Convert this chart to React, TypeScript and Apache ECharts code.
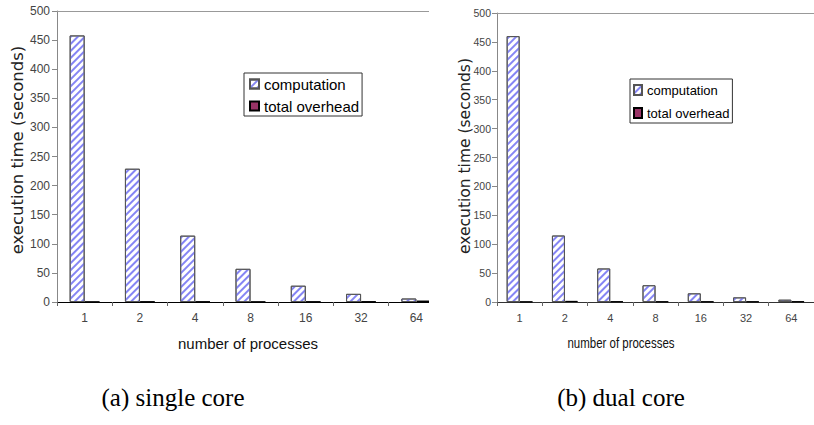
import React, { useEffect, useRef } from "react";
import * as echarts from "echarts";

const categories = ["1", "2", "4", "8", "16", "32", "64"];
const singleComputation = [458, 229, 114, 57, 28, 14, 6];
const singleOverhead = [0.4, 0.8, 0.8, 0.5, 0.8, 1, 2.5];
const dualComputation = [460, 115, 58, 29, 15, 8, 4];
const dualOverhead = [0.5, 2, 1, 0.8, 0.8, 0.8, 1];
const seriesNames = ["computation", "total overhead"];
const yMin = 0;
const yMax = 500;
const yInterval = 50;

const SANS = '"Liberation Sans", Arial, sans-serif';
const WIDE = '"DejaVu Sans", sans-serif';
const SERIF = '"Liberation Serif", "Times New Roman", serif';

const hatch = {
  symbol: "rect",
  symbolSize: 1,
  color: "#8585f4",
  backgroundColor: "#ffffff",
  dashArrayX: [1, 0],
  dashArrayY: [1.5, 2.2],
  rotation: -Math.PI / 4,
};

function yAxisCfg(gridIndex: number, size: number, margin: number) {
  return {
    type: "value",
    gridIndex,
    min: yMin,
    max: yMax,
    interval: yInterval,
    axisLine: { show: true, lineStyle: { color: "#888", width: 1 } },
    axisTick: { show: true, length: 5, lineStyle: { color: "#888" } },
    axisLabel: { fontFamily: SANS, fontSize: size, color: "#444", margin },
    splitLine: { show: false },
  };
}

function xAxisCfg(gridIndex: number, size: number, lineColor: string) {
  return {
    type: "category",
    gridIndex,
    data: categories,
    boundaryGap: true,
    axisLine: { show: true, lineStyle: { color: lineColor, width: 1 } },
    axisTick: { show: true, length: 4, lineStyle: { color: "#666" } },
    axisLabel: { fontFamily: SANS, fontSize: size, color: "#444", margin: 10 },
    splitLine: { show: false },
  };
}

function topBorder(gridIndex: number) {
  return {
    type: "value",
    gridIndex,
    position: "top",
    min: 0,
    max: 1,
    axisLine: { show: true, lineStyle: { color: "#999", width: 1 } },
    axisTick: { show: false },
    axisLabel: { show: false },
    splitLine: { show: false },
  };
}

export default function App() {
  const ref = useRef<HTMLDivElement>(null);
  useEffect(() => {
    if (!ref.current) return;
    const chart = echarts.init(ref.current, undefined, { renderer: "svg" });
    const compStyle = {
      color: "#ffffff",
      borderColor: "#555",
      borderWidth: 1,
      decal: hatch,
    };
    const ovStyle = { color: "#993366", borderColor: "#000", borderWidth: 1 };
    chart.setOption({
      animation: false,
      backgroundColor: "#ffffff",
      grid: [
        { left: 57, top: 11, width: 387, height: 291, containLabel: false },
        { left: 497, top: 13, width: 317, height: 289, containLabel: false },
      ],
      xAxis: [
        xAxisCfg(0, 12, "#000"),
        xAxisCfg(1, 11, "#333"),
        topBorder(0),
        topBorder(1),
      ],
      yAxis: [yAxisCfg(0, 12, 7), yAxisCfg(1, 10.5, 6)],
      legend: [
        {
          orient: "vertical",
          left: 244,
          top: 73,
          data: seriesNames,
          icon: "rect",
          itemWidth: 9,
          itemHeight: 9,
          itemGap: 6,
          padding: [3, 3, 2, 5],
          borderColor: "#333",
          borderWidth: 1,
          backgroundColor: "#fff",
          selectedMode: false,
          textStyle: { fontFamily: SANS, fontSize: 15, color: "#000", lineHeight: 16 },
        },
        {
          orient: "vertical",
          left: 630,
          top: 79,
          data: seriesNames,
          icon: "rect",
          itemWidth: 8,
          itemHeight: 10,
          itemGap: 7,
          padding: [3, 3, 2, 3],
          borderColor: "#333",
          borderWidth: 1,
          backgroundColor: "#fff",
          selectedMode: false,
          textStyle: { fontFamily: SANS, fontSize: 13, color: "#000", lineHeight: 16 },
        },
      ],
      series: [
        {
          name: seriesNames[0],
          type: "bar",
          xAxisIndex: 0,
          yAxisIndex: 0,
          data: singleComputation,
          barWidth: 15,
          barGap: "0%",
          itemStyle: compStyle,
        },
        {
          name: seriesNames[1],
          type: "bar",
          xAxisIndex: 0,
          yAxisIndex: 0,
          data: singleOverhead,
          barWidth: 15,
          barGap: "0%",
          itemStyle: ovStyle,
        },
        {
          name: seriesNames[0],
          type: "bar",
          xAxisIndex: 1,
          yAxisIndex: 1,
          data: dualComputation,
          barWidth: 13,
          barGap: "0%",
          itemStyle: compStyle,
        },
        {
          name: seriesNames[1],
          type: "bar",
          xAxisIndex: 1,
          yAxisIndex: 1,
          data: dualOverhead,
          barWidth: 13,
          barGap: "0%",
          itemStyle: ovStyle,
        },
      ],
      graphic: [
        {
          type: "rect",
          z: 100,
          shape: { x: 429, y: 0, width: 22, height: 318 },
          style: { fill: "#ffffff" },
        },
        {
          type: "text",
          z: 101,
          x: 17,
          y: 150,
          rotation: Math.PI / 2,
          style: {
            text: "execution time (seconds)",
            fontFamily: WIDE,
            fontSize: 16.5,
            fill: "#222",
            align: "center",
            verticalAlign: "middle",
          },
        },
        {
          type: "text",
          z: 101,
          x: 465,
          y: 156,
          rotation: Math.PI / 2,
          style: {
            text: "execution time (seconds)",
            fontFamily: WIDE,
            fontSize: 15.5,
            fill: "#222",
            align: "center",
            verticalAlign: "middle",
          },
        },
        {
          type: "text",
          z: 101,
          x: 248,
          y: 343,
          style: {
            text: "number of processes",
            fontFamily: SANS,
            fontSize: 15,
            fill: "#111",
            align: "center",
            verticalAlign: "middle",
          },
        },
        {
          type: "text",
          z: 101,
          x: 621,
          y: 343,
          scaleX: 0.82,
          style: {
            text: "number of processes",
            fontFamily: SANS,
            fontSize: 14,
            fill: "#111",
            align: "center",
            verticalAlign: "middle",
          },
        },
        {
          type: "text",
          z: 101,
          x: 173,
          y: 397,
          style: {
            text: "(a) single core",
            fontFamily: SERIF,
            fontSize: 25,
            fill: "#000",
            align: "center",
            verticalAlign: "middle",
          },
        },
        {
          type: "text",
          z: 101,
          x: 621,
          y: 397,
          style: {
            text: "(b) dual core",
            fontFamily: SERIF,
            fontSize: 25,
            fill: "#000",
            align: "center",
            verticalAlign: "middle",
          },
        },
      ],
    });
    return () => chart.dispose();
  }, []);
  return (
    <div
      ref={ref}
      style={{ position: "absolute", left: 0, top: 0, width: 814, height: 425, background: "#fff" }}
    />
  );
}
